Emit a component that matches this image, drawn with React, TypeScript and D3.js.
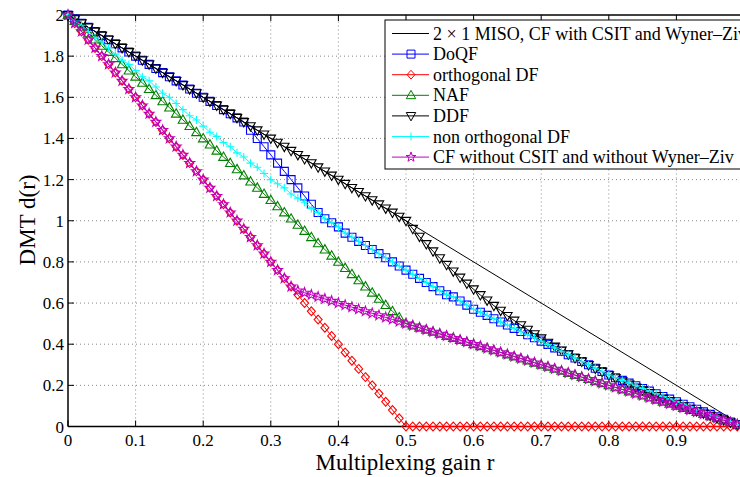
import React, { useRef, useEffect } from 'react';
import * as d3 from 'd3';

// sampling grid of the multiplexing gain r (0 .. 0.99, step 0.01)
const rGrid: number[] = d3.range(100).map((i) => i / 100);

// 2x1 MISO bound, plain line without markers
const misoR = [0, 0.99];
const misoD = [2, 0.02];

const doqf = [
  2, 1.98, 1.96, 1.94, 1.92, 1.9, 1.88, 1.86, 1.84, 1.82,
  1.8, 1.78, 1.76, 1.74, 1.72, 1.7, 1.68, 1.66, 1.64, 1.62,
  1.6, 1.58, 1.56, 1.54, 1.52, 1.5, 1.48, 1.44, 1.4, 1.36,
  1.32, 1.28, 1.24, 1.2, 1.16, 1.12, 1.08, 1.04, 1.01, 0.99,
  0.97, 0.94, 0.92, 0.9, 0.88, 0.86, 0.84, 0.82, 0.8, 0.78,
  0.76, 0.74, 0.72, 0.7, 0.68, 0.66, 0.64, 0.63, 0.61, 0.59,
  0.57, 0.555, 0.54, 0.524, 0.508, 0.493, 0.477, 0.462, 0.446, 0.431,
  0.415, 0.399, 0.382, 0.366, 0.349, 0.333, 0.316, 0.3, 0.283, 0.267,
  0.25, 0.237, 0.224, 0.211, 0.198, 0.185, 0.172, 0.159, 0.146, 0.133,
  0.12, 0.108, 0.096, 0.084, 0.071, 0.059, 0.047, 0.035, 0.022, 0.01,
];

const orthDF = [
  2, 1.96, 1.92, 1.88, 1.84, 1.8, 1.76, 1.72, 1.68, 1.64,
  1.6, 1.56, 1.52, 1.48, 1.44, 1.4, 1.36, 1.32, 1.28, 1.24,
  1.2, 1.16, 1.12, 1.08, 1.04, 1, 0.96, 0.92, 0.88, 0.84,
  0.8, 0.76, 0.72, 0.68, 0.64, 0.6, 0.56, 0.52, 0.48, 0.44,
  0.4, 0.36, 0.32, 0.28, 0.24, 0.2, 0.16, 0.12, 0.08, 0.04,
  0, 0, 0, 0, 0, 0, 0, 0, 0, 0,
  0, 0, 0, 0, 0, 0, 0, 0, 0, 0,
  0, 0, 0, 0, 0, 0, 0, 0, 0, 0,
  0, 0, 0, 0, 0, 0, 0, 0, 0, 0,
  0, 0, 0, 0, 0, 0, 0, 0, 0, 0,
];

const naf = [
  2, 1.97, 1.94, 1.91, 1.88, 1.85, 1.82, 1.79, 1.76, 1.73,
  1.7, 1.67, 1.64, 1.61, 1.58, 1.55, 1.52, 1.49, 1.46, 1.43,
  1.4, 1.37, 1.34, 1.31, 1.28, 1.25, 1.22, 1.19, 1.16, 1.13,
  1.1, 1.07, 1.04, 1.01, 0.98, 0.95, 0.92, 0.89, 0.86, 0.83,
  0.8, 0.77, 0.74, 0.71, 0.68, 0.65, 0.62, 0.59, 0.56, 0.53,
  0.5, 0.49, 0.48, 0.47, 0.46, 0.45, 0.44, 0.43, 0.42, 0.41,
  0.4, 0.39, 0.38, 0.37, 0.36, 0.35, 0.34, 0.33, 0.32, 0.31,
  0.3, 0.29, 0.28, 0.27, 0.26, 0.25, 0.24, 0.23, 0.22, 0.21,
  0.2, 0.19, 0.18, 0.17, 0.16, 0.15, 0.14, 0.13, 0.12, 0.11,
  0.1, 0.09, 0.08, 0.07, 0.06, 0.05, 0.04, 0.03, 0.02, 0.01,
];

const ddf = [
  2, 1.98, 1.96, 1.94, 1.92, 1.9, 1.88, 1.86, 1.84, 1.82,
  1.8, 1.78, 1.76, 1.74, 1.72, 1.7, 1.68, 1.66, 1.64, 1.62,
  1.6, 1.58, 1.56, 1.54, 1.52, 1.5, 1.48, 1.46, 1.44, 1.42,
  1.4, 1.38, 1.36, 1.34, 1.32, 1.3, 1.28, 1.26, 1.24, 1.22,
  1.2, 1.18, 1.16, 1.14, 1.12, 1.1, 1.08, 1.06, 1.04, 1.02,
  1, 0.961, 0.923, 0.887, 0.852, 0.818, 0.786, 0.754, 0.724, 0.695,
  0.667, 0.639, 0.613, 0.587, 0.563, 0.538, 0.515, 0.493, 0.471, 0.449,
  0.429, 0.408, 0.389, 0.37, 0.351, 0.333, 0.316, 0.299, 0.282, 0.266,
  0.25, 0.235, 0.22, 0.205, 0.19, 0.176, 0.163, 0.149, 0.136, 0.124,
  0.111, 0.099, 0.087, 0.075, 0.064, 0.053, 0.042, 0.031, 0.02, 0.01,
];

const nonOrthDF = [
  2, 1.97, 1.95, 1.92, 1.89, 1.87, 1.84, 1.81, 1.78, 1.76,
  1.73, 1.7, 1.68, 1.65, 1.62, 1.6, 1.57, 1.54, 1.51, 1.49,
  1.46, 1.43, 1.41, 1.38, 1.36, 1.33, 1.31, 1.28, 1.26, 1.23,
  1.2, 1.18, 1.16, 1.13, 1.11, 1.09, 1.06, 1.04, 1.01, 0.99,
  0.97, 0.94, 0.92, 0.9, 0.88, 0.86, 0.84, 0.82, 0.8, 0.78,
  0.76, 0.74, 0.72, 0.7, 0.68, 0.66, 0.64, 0.63, 0.61, 0.59,
  0.57, 0.555, 0.54, 0.524, 0.508, 0.493, 0.477, 0.462, 0.446, 0.431,
  0.415, 0.399, 0.382, 0.366, 0.349, 0.333, 0.316, 0.3, 0.283, 0.267,
  0.25, 0.237, 0.224, 0.211, 0.198, 0.185, 0.172, 0.159, 0.146, 0.133,
  0.12, 0.108, 0.096, 0.084, 0.071, 0.059, 0.047, 0.035, 0.022, 0.01,
];

const cfNoCsit = [
  2, 1.96, 1.92, 1.88, 1.84, 1.8, 1.76, 1.72, 1.68, 1.64,
  1.6, 1.56, 1.52, 1.48, 1.44, 1.4, 1.36, 1.32, 1.28, 1.24,
  1.2, 1.16, 1.12, 1.08, 1.04, 1, 0.96, 0.92, 0.88, 0.84,
  0.8, 0.76, 0.72, 0.68, 0.66, 0.65, 0.64, 0.63, 0.62, 0.61,
  0.6, 0.59, 0.58, 0.57, 0.56, 0.55, 0.54, 0.53, 0.52, 0.51,
  0.5, 0.49, 0.48, 0.47, 0.46, 0.45, 0.44, 0.43, 0.42, 0.41,
  0.4, 0.39, 0.38, 0.37, 0.36, 0.35, 0.34, 0.33, 0.32, 0.31,
  0.3, 0.29, 0.28, 0.27, 0.26, 0.25, 0.24, 0.23, 0.22, 0.21,
  0.2, 0.19, 0.18, 0.17, 0.16, 0.15, 0.14, 0.13, 0.12, 0.11,
  0.1, 0.09, 0.08, 0.07, 0.06, 0.05, 0.04, 0.03, 0.02, 0.01,
];

const xTicks = [0, 0.1, 0.2, 0.3, 0.4, 0.5, 0.6, 0.7, 0.8, 0.9];
const yTicks = [0, 0.2, 0.4, 0.6, 0.8, 1, 1.2, 1.4, 1.6, 1.8, 2];

const legendLabels = [
  '2 \u00d7 1 MISO, CF with CSIT and Wyner\u2013Ziv',
  'DoQF',
  'orthogonal DF',
  'NAF',
  'DDF',
  'non orthogonal DF',
  'CF without CSIT and without Wyner\u2013Ziv',
];

type MarkerKind = 'none' | 'square' | 'diamond' | 'triUp' | 'triDown' | 'plus' | 'star';

function markerPath(kind: MarkerKind, s: number): string {
  if (kind === 'square') return `M${-s},${-s}H${s}V${s}H${-s}Z`;
  if (kind === 'diamond') return `M0,${-s * 1.1}L${s},0L0,${s * 1.1}L${-s},0Z`;
  if (kind === 'triUp') return `M0,${-s * 1.1}L${s * 1.05},${s * 0.75}L${-s * 1.05},${s * 0.75}Z`;
  if (kind === 'triDown') return `M0,${s * 1.1}L${s * 1.05},${-s * 0.75}L${-s * 1.05},${-s * 0.75}Z`;
  if (kind === 'plus') return `M${-s},0H${s}M0,${-s}V${s}`;
  if (kind === 'star') {
    const pts = d3.range(10).map((k) => {
      const rr = k % 2 === 0 ? s * 1.15 : s * 0.45;
      const a = -Math.PI / 2 + (k * Math.PI) / 5;
      return `${(rr * Math.cos(a)).toFixed(2)},${(rr * Math.sin(a)).toFixed(2)}`;
    });
    return 'M' + pts.join('L') + 'Z';
  }
  return '';
}

function DmtChart() {
  const chartRef = useRef<HTMLDivElement>(null);

  useEffect(() => {
    document.body.style.margin = '0';
    const width = 740;
    const height = 477;
    const font = "'Liberation Serif', 'Times New Roman', serif";

    const x = d3.scaleLinear().domain([0, 1]).range([68, 744]);
    const y = d3.scaleLinear().domain([0, 2]).range([426.5, 15]);

    const series = [
      { label: legendLabels[1], values: doqf, color: '#0000ff', marker: 'square' as MarkerKind, size: 4 },
      { label: legendLabels[2], values: orthDF, color: '#ff0000', marker: 'diamond' as MarkerKind, size: 4 },
      { label: legendLabels[3], values: naf, color: '#008000', marker: 'triUp' as MarkerKind, size: 4.5 },
      { label: legendLabels[4], values: ddf, color: '#000000', marker: 'triDown' as MarkerKind, size: 4.5 },
      { label: legendLabels[5], values: nonOrthDF, color: '#00ffff', marker: 'plus' as MarkerKind, size: 4 },
      { label: legendLabels[6], values: cfNoCsit, color: '#c000c0', marker: 'star' as MarkerKind, size: 4.5 },
    ];

    const svg = d3
      .select(chartRef.current)
      .append('svg')
      .attr('width', width)
      .attr('height', height)
      .style('display', 'block')
      .style('background', '#ffffff');

    // grid
    svg.selectAll('.grid-x')
      .data(xTicks.filter((t) => t > 0))
      .enter()
      .append('line')
      .attr('x1', (d) => x(d))
      .attr('x2', (d) => x(d))
      .attr('y1', y(0))
      .attr('y2', y(2))
      .attr('stroke', '#888')
      .attr('stroke-width', 1)
      .attr('stroke-dasharray', '1 3');

    svg.selectAll('.grid-y')
      .data(yTicks.filter((t) => t > 0 && t < 2))
      .enter()
      .append('line')
      .attr('x1', x(0))
      .attr('x2', x(1))
      .attr('y1', (d) => y(d))
      .attr('y2', (d) => y(d))
      .attr('stroke', '#888')
      .attr('stroke-width', 1)
      .attr('stroke-dasharray', '1 3');

    // axes box and inward ticks
    const axes = svg.append('g').attr('stroke', '#000').attr('stroke-width', 1.5);
    axes.append('line').attr('x1', x(0)).attr('x2', x(1)).attr('y1', y(0)).attr('y2', y(0));
    axes.append('line').attr('x1', x(0)).attr('x2', x(1)).attr('y1', y(2)).attr('y2', y(2));
    axes.append('line').attr('x1', x(0)).attr('x2', x(0)).attr('y1', y(0)).attr('y2', y(2));

    xTicks.forEach((t) => {
      axes.append('line').attr('x1', x(t)).attr('x2', x(t)).attr('y1', y(0)).attr('y2', y(0) - 6).attr('stroke-width', 1);
      axes.append('line').attr('x1', x(t)).attr('x2', x(t)).attr('y1', y(2)).attr('y2', y(2) + 6).attr('stroke-width', 1);
    });
    yTicks.forEach((t) => {
      axes.append('line').attr('x1', x(0)).attr('x2', x(0) + 6).attr('y1', y(t)).attr('y2', y(t)).attr('stroke-width', 1);
    });

    svg.selectAll('.x-label')
      .data(xTicks)
      .enter()
      .append('text')
      .attr('x', (d) => x(d))
      .attr('y', y(0) + 19.5)
      .attr('text-anchor', 'middle')
      .attr('font-family', font)
      .attr('font-size', 17)
      .text((d) => String(d));

    svg.selectAll('.y-label')
      .data(yTicks)
      .enter()
      .append('text')
      .attr('x', x(0) - 4)
      .attr('y', (d) => y(d) + 6)
      .attr('text-anchor', 'end')
      .attr('font-family', font)
      .attr('font-size', 17)
      .text((d) => String(d));

    svg.append('text')
      .attr('x', 405)
      .attr('y', 470)
      .attr('text-anchor', 'middle')
      .attr('font-family', font)
      .attr('font-size', 23)
      .text('Multiplexing gain r');

    svg.append('text')
      .attr('transform', 'translate(35,220) rotate(-90)')
      .attr('text-anchor', 'middle')
      .attr('font-family', font)
      .attr('font-size', 23)
      .text('DMT d(r)');

    // curves
    svg.append('path')
      .attr('d', d3.line<number>().x((d, i) => x(misoR[i])).y((d) => y(d))(misoD) || '')
      .attr('fill', 'none')
      .attr('stroke', '#000')
      .attr('stroke-width', 1);

    const line = d3.line<number>().x((d, i) => x(rGrid[i])).y((d) => y(d));

    series.forEach((s) => {
      const g = svg.append('g');
      g.append('path')
        .attr('d', line(s.values) || '')
        .attr('fill', 'none')
        .attr('stroke', s.color)
        .attr('stroke-width', 1);
      g.selectAll('.mk')
        .data(s.values)
        .enter()
        .append('path')
        .attr('transform', (d, i) => `translate(${x(rGrid[i])},${y(d)})`)
        .attr('d', markerPath(s.marker, s.size))
        .attr('fill', 'none')
        .attr('stroke', s.color)
        .attr('stroke-width', 1.1);
    });

    // legend
    const legend = svg.append('g');
    legend.append('rect')
      .attr('x', 385)
      .attr('y', 20)
      .attr('width', 380)
      .attr('height', 149)
      .attr('fill', '#fff')
      .attr('stroke', '#000')
      .attr('stroke-width', 1);

    const legendItems = [
      { label: legendLabels[0], color: '#000000', marker: 'none' as MarkerKind, size: 4 },
      ...series,
    ];
    legendItems.forEach((s, i) => {
      const cy = 33.5 + i * 20.6;
      legend.append('line')
        .attr('x1', 392)
        .attr('x2', 429)
        .attr('y1', cy)
        .attr('y2', cy)
        .attr('stroke', s.color)
        .attr('stroke-width', 1);
      if (s.marker !== 'none') {
        legend.append('path')
          .attr('transform', `translate(411,${cy})`)
          .attr('d', markerPath(s.marker, s.size))
          .attr('fill', 'none')
          .attr('stroke', s.color)
          .attr('stroke-width', 1);
      }
      legend.append('text')
        .attr('x', 433)
        .attr('y', cy + 6)
        .attr('font-family', font)
        .attr('font-size', 18)
        .text(s.label);
    });

    return () => {
      svg.remove();
    };
  }, []);

  return <div ref={chartRef} />;
}

export default function App() {
  return <DmtChart />;
}
